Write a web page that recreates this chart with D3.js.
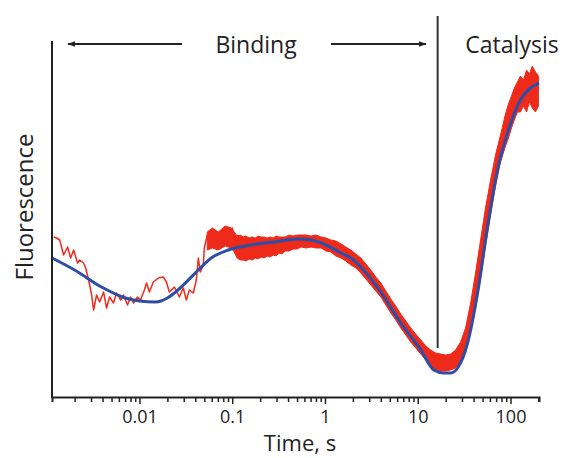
<!DOCTYPE html>
<html>
<head>
<meta charset="utf-8">
<script src="https://cdn.jsdelivr.net/npm/d3@7"></script>
<style>
  html, body { margin: 0; padding: 0; background: #fff; }
  svg { display: block; font-family: "Open Sans", sans-serif; }
</style>
</head>
<body>
<div id="chart"></div>
<script>
// fitted curve (time in s, fluorescence in arbitrary units)
const fitT = [0.00114, 0.0020, 0.0039, 0.00706, 0.01, 0.0149, 0.020, 0.0238, 0.0297, 0.0431, 0.0594, 0.0906,
  0.160, 0.283, 0.513, 0.707, 0.975, 1.49, 1.90, 2.44, 4.00, 6.56, 10.8, 14.9, 19.0, 22.7, 26.9, 34.5, 44.2,
  56.6, 72.5, 92.9, 128, 164, 203];
const fitV = [141, 129, 112, 101, 98, 97, 101, 106, 114, 129, 141, 149,
  154, 157, 160, 159, 155, 146, 141, 132, 107, 76, 49, 29, 26, 26, 31, 56, 106,
  172, 229, 266, 299, 311, 316];

// raw trace, early (sparse) part
const rawT = [0.00119, 0.00128, 0.00138, 0.00152, 0.00168, 0.00181, 0.00195, 0.00215, 0.00226, 0.00250, 0.00263,
  0.00283, 0.00305, 0.00320, 0.00345, 0.00372, 0.00410, 0.00442, 0.00476, 0.00525, 0.00566, 0.00625, 0.00673,
  0.00743, 0.00800, 0.00862, 0.00952, 0.01025, 0.0113, 0.0119, 0.0128, 0.0141, 0.0160, 0.0181, 0.0195, 0.0210,
  0.0238, 0.0269, 0.0297, 0.0320, 0.0345, 0.0381, 0.0410, 0.0431, 0.0453, 0.0488, 0.0500, 0.0538, 0.0566,
  0.0610, 0.0656, 0.0707, 0.0781, 0.0841, 0.0906, 0.100, 0.108, 0.116];
const rawV = [162, 161, 159, 144, 152, 141, 149, 136, 139, 136, 131,
  119, 104, 89, 104, 97, 107, 91, 102, 96, 106, 99, 104,
  94, 102, 96, 102, 99, 109, 116, 107, 117, 121, 122, 117, 107,
  112, 102, 111, 99, 109, 106, 119, 141, 127, 134, 151, 164, 154,
  169, 157, 164, 154, 171, 161, 171, 156, 164];

// raw trace, dense part: noise envelope
const bandT = [0.0538, 0.0610, 0.0707, 0.0841, 0.0975, 0.105, 0.113, 0.122, 0.131, 0.141, 0.152, 0.164, 0.177,
  0.190, 0.205, 0.221, 0.238, 0.256, 0.276, 0.297, 0.320, 0.345, 0.372, 0.410, 0.453, 0.500, 0.552, 0.625,
  0.707, 0.800, 0.906, 1.025, 1.16, 1.31, 1.49, 1.68, 1.90, 2.15, 2.44, 2.76, 3.12, 3.53, 4.00, 4.53, 5.13,
  5.80, 6.56, 7.43, 8.41, 9.51, 10.8, 12.2, 13.8, 15.6, 17.7, 20.0, 22.6, 25.6, 29.0, 32.8, 37.2, 42.0,
  47.6, 53.8, 61.0, 69.0, 78.1, 88.3, 95.1, 102.5, 110, 119, 128, 138, 149, 160, 172, 186, 200];
const bandHi = [167, 171, 167, 173, 171, 167, 163, 164, 162, 163, 161, 162, 161,
  163, 162, 162, 161, 162, 161, 163, 162, 162, 162, 164, 163, 164, 164, 164,
  163, 164, 162, 161, 159, 158, 155, 152, 149, 145, 141, 135, 129, 122, 116, 108, 100,
  93, 85, 78, 71, 65, 59, 53, 49, 46, 45, 44, 45, 49, 57, 71, 96, 126,
  159, 191, 219, 244, 264, 285, 295, 303, 311, 317, 323, 319, 329, 325, 333, 327, 323];
const bandLo = [149, 151, 149, 153, 151, 147, 141, 139, 139, 138, 140, 139, 141,
  140, 142, 141, 143, 142, 144, 143, 146, 145, 148, 148, 150, 150, 152, 151,
  152, 151, 151, 148, 147, 143, 141, 138, 134, 131, 126, 120, 114, 108, 102, 94, 86,
  79, 71, 64, 57, 51, 45, 39, 33, 29, 28, 28, 29, 31, 37, 47, 67, 91,
  121, 153, 184, 213, 237, 253, 261, 271, 279, 287, 287, 293, 287, 297, 291, 287, 293];

const majorTicks = [0.01, 0.1, 1, 10, 100];
const tickLabels = ["0.01", "0.1", "1", "10", "100"];
const phaseSplit = 16.4; // s, end of binding phase

const width = 565, height = 458;
const x = d3.scaleLog().domain([0.00114, 203]).range([52, 539]);
const y = d3.scaleLinear().domain([0, 361]).range([399, 38]);

const svg = d3.select("#chart").append("svg")
    .attr("width", width)
    .attr("height", height);

const defs = svg.append("defs");
defs.append("marker")
    .attr("id", "arrow")
    .attr("viewBox", "0 0 10 10")
    .attr("refX", 9).attr("refY", 5)
    .attr("markerWidth", 4).attr("markerHeight", 4)
    .attr("orient", "auto-start-reverse")
  .append("path")
    .attr("d", "M0,1.5L10,5L0,8.5z")
    .attr("fill", "#222");

// noise band + raw trace
const band = d3.area()
    .x((d, i) => x(bandT[i]))
    .y0((d, i) => y(bandLo[i]))
    .y1((d, i) => y(bandHi[i]));

svg.append("path")
    .datum(bandT)
    .attr("d", band)
    .attr("fill", "#ee2a1b")
    .attr("stroke", "#ee2a1b")
    .attr("stroke-width", 1);

const raw = d3.line()
    .x((d, i) => x(rawT[i]))
    .y((d, i) => y(rawV[i]));

svg.append("path")
    .datum(rawT)
    .attr("d", raw)
    .attr("fill", "none")
    .attr("stroke", "#ee2a1b")
    .attr("stroke-width", 1.5)
    .attr("stroke-linejoin", "round");

// fit
const fit = d3.line()
    .x((d, i) => x(fitT[i]))
    .y((d, i) => y(fitV[i]))
    .curve(d3.curveMonotoneX);

svg.append("path")
    .datum(fitT)
    .attr("d", fit)
    .attr("fill", "none")
    .attr("stroke", "#2d4ea6")
    .attr("stroke-width", 3)
    .attr("stroke-linejoin", "round");

// axes
const minor = [];
for (let e = -3; e <= 2; e++) {
  for (let m = 1; m <= 9; m++) {
    const v = m * Math.pow(10, e);
    if (v >= x.domain()[0] && v <= x.domain()[1]) minor.push(v);
  }
}

const xAxis = svg.append("g")
    .attr("transform", "translate(0,397)")
    .call(d3.axisBottom(x)
      .tickValues(minor)
      .tickSizeOuter(0)
      .tickSize(5)
      .tickFormat(d => {
        const k = majorTicks.findIndex(m => Math.abs(m - d) / m < 1e-6);
        return k < 0 ? "" : tickLabels[k];
      }));

xAxis.select(".domain")
    .attr("stroke", "#222")
    .attr("stroke-width", 2);
xAxis.selectAll(".tick line")
    .attr("stroke", "#222")
    .attr("stroke-width", 1.5)
    .attr("y2", d => majorTicks.some(m => Math.abs(m - d) / m < 1e-6) ? 7 : 5);
xAxis.selectAll(".tick text")
    .attr("y", 13)
    .attr("fill", "#222")
    .style("font-size", "18px")
    .style("font-family", "'Open Sans', sans-serif");

svg.append("line")
    .attr("x1", 52).attr("x2", 52)
    .attr("y1", 41).attr("y2", 398)
    .attr("stroke", "#222")
    .attr("stroke-width", 2);

// phase divider
svg.append("line")
    .attr("x1", x(phaseSplit)).attr("x2", x(phaseSplit))
    .attr("y1", 16).attr("y2", 348)
    .attr("stroke", "#333")
    .attr("stroke-width", 2);

// labels
svg.append("text")
    .attr("x", 300).attr("y", 451)
    .attr("text-anchor", "middle")
    .attr("fill", "#222")
    .style("font-size", "22px")
    .text("Time, s");

svg.append("text")
    .attr("transform", "translate(33,207) rotate(-90)")
    .attr("text-anchor", "middle")
    .attr("fill", "#222")
    .style("font-size", "24px")
    .text("Fluorescence");

svg.append("text")
    .attr("x", 256).attr("y", 53)
    .attr("text-anchor", "middle")
    .attr("fill", "#222")
    .style("font-size", "23px")
    .text("Binding");

svg.append("text")
    .attr("x", 512).attr("y", 53)
    .attr("text-anchor", "middle")
    .attr("fill", "#222")
    .style("font-size", "23px")
    .text("Catalysis");

svg.append("line")
    .attr("x1", 182).attr("x2", 68)
    .attr("y1", 44).attr("y2", 44)
    .attr("stroke", "#222").attr("stroke-width", 2)
    .attr("marker-end", "url(#arrow)");

svg.append("line")
    .attr("x1", 331).attr("x2", 426)
    .attr("y1", 44).attr("y2", 44)
    .attr("stroke", "#222").attr("stroke-width", 2)
    .attr("marker-end", "url(#arrow)");
</script>
</body>
</html>
